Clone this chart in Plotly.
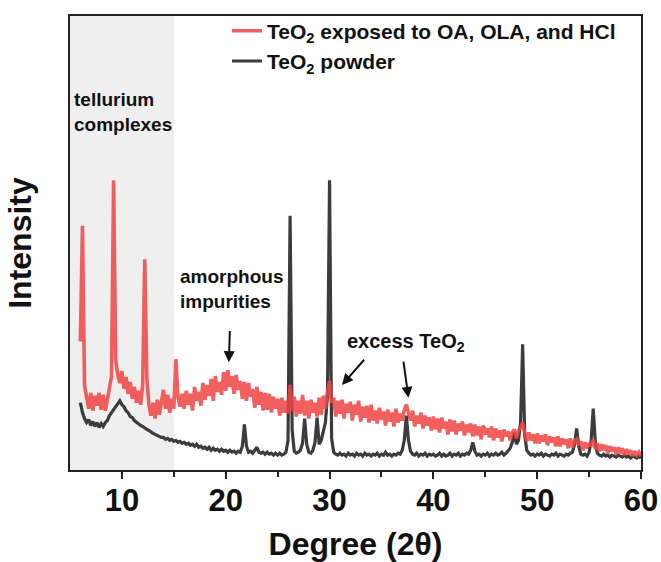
import plotly.graph_objects as go

# 2-theta sampling grid (degrees)
x_start = 6.0
x_step = 0.2

# TeO2 exposed to OA, OLA, and HCl (arb. units), one row per 2 degrees
red_intensity = [
    130, 247, 85, 72, 62, 78, 60, 75, 65, 78,      # 6.0 - 7.8
    61, 76, 60, 71, 82, 95, 293, 112, 96, 88,      # 8.0 - 9.8
    100, 82, 94, 77, 89, 72, 84, 68, 80, 66,       # 10.0 - 11.8
    86, 213, 92, 66, 55, 68, 52, 71, 56, 68,       # 12.0 - 13.8
    81, 62, 76, 58, 72, 62, 112, 74, 64, 77,       # 14.0 - 15.8
    62, 80, 66, 77, 60, 84, 70, 79, 65, 88,        # 16.0 - 17.8
    71, 86, 75, 92, 70, 95, 79, 89, 76, 99,        # 18.0 - 19.8
    80, 101, 84, 95, 77, 96, 81, 90, 72, 89,       # 20.0 - 21.8
    70, 88, 74, 82, 63, 84, 66, 79, 60, 78,        # 22.0 - 23.8
    61, 77, 58, 74, 62, 72, 55, 73, 58, 70,        # 24.0 - 25.8
    57, 86, 60, 74, 54, 70, 57, 76, 55, 70,        # 26.0 - 27.8
    52, 71, 58, 68, 54, 73, 56, 75, 62, 78,        # 28.0 - 29.8
    90, 68, 73, 54, 70, 57, 71, 52, 67, 58,        # 30.0 - 31.8
    69, 50, 66, 56, 70, 49, 64, 53, 65, 48,        # 32.0 - 33.8
    66, 50, 60, 47, 63, 51, 59, 45, 61, 49,        # 34.0 - 35.8
    58, 44, 62, 48, 57, 50, 61, 66, 58, 50,        # 36.0 - 37.8
    60, 44, 55, 47, 58, 42, 55, 45, 53, 40,        # 38.0 - 39.8
    54, 41, 52, 38, 53, 42, 49, 36, 51, 39,        # 40.0 - 41.8
    50, 36, 47, 40, 49, 35, 46, 38, 47, 34,        # 42.0 - 43.8
    46, 35, 44, 31, 45, 36, 42, 33, 44, 30,        # 44.0 - 45.8
    42, 33, 40, 29, 41, 34, 39, 30, 38, 41,        # 46.0 - 47.8
    32, 40, 43, 48, 37, 29, 38, 30, 36, 27,        # 48.0 - 49.8
    37, 27, 35, 29, 36, 25, 34, 28, 33, 24,        # 50.0 - 51.8
    34, 24, 32, 26, 31, 22, 32, 23, 29, 31,        # 52.0 - 53.8
    25, 29, 20, 28, 22, 27, 24, 31, 21, 27,        # 54.0 - 55.8
    19, 26, 20, 25, 17, 24, 19, 23, 16, 23,        # 56.0 - 57.8
    17, 22, 15, 21, 16, 20, 14, 19, 15, 18,        # 58.0 - 59.8
    14,                                            # 60.0
]

# TeO2 powder (arb. units)
black_intensity = [
    68, 58, 52, 48, 51, 45, 49, 44, 48, 43,        # 6.0 - 7.8
    47, 44, 48, 50, 55, 58, 62, 64, 68, 70,        # 8.0 - 9.8
    66, 64, 60, 58, 54, 53, 50, 48, 47, 45,        # 10.0 - 11.8
    44, 42, 41, 40, 38, 37, 36, 35, 34, 33,        # 12.0 - 13.8
    33, 31, 32, 30, 31, 29, 30, 28, 29, 27,        # 14.0 - 15.8
    28, 26, 27, 25, 26, 24, 26, 23, 24, 22,        # 16.0 - 17.8
    23, 21, 23, 20, 22, 20, 21, 19, 21, 19,        # 18.0 - 19.8
    20, 18, 20, 18, 19, 17, 19, 18, 24, 46,        # 20.0 - 21.8
    24, 18, 19, 17, 20, 23, 18, 17, 18, 16,        # 22.0 - 23.8
    18, 16, 17, 15, 17, 15, 17, 15, 16, 18,        # 24.0 - 25.8
    30, 257, 40, 19, 17, 18, 20, 27, 52, 26,       # 26.0 - 27.8
    18, 17, 20, 28, 53, 26, 30, 40, 48, 75,        # 28.0 - 29.8
    293, 32, 18, 16, 15, 17, 15, 16, 14, 17,       # 30.0 - 31.8
    15, 16, 14, 17, 15, 16, 14, 17, 15, 16,        # 32.0 - 33.8
    14, 16, 15, 17, 14, 16, 15, 18, 15, 16,        # 34.0 - 35.8
    14, 16, 15, 17, 16, 20, 30, 55, 30, 19,        # 36.0 - 37.8
    16, 15, 17, 14, 16, 15, 17, 14, 16, 15,        # 38.0 - 39.8
    16, 14, 15, 17, 14, 16, 14, 15, 17, 14,        # 40.0 - 41.8
    16, 15, 17, 14, 16, 15, 17, 16, 20, 28,        # 42.0 - 43.8
    19, 15, 16, 14, 16, 15, 17, 14, 16, 15,        # 44.0 - 45.8
    17, 15, 16, 18, 15, 17, 19, 22, 28, 38,        # 46.0 - 47.8
    26, 30, 48, 127, 35, 20, 17, 15, 16, 14,       # 48.0 - 49.8
    16, 15, 17, 14, 16, 15, 14, 16, 15, 17,        # 50.0 - 51.8
    14, 16, 15, 14, 16, 15, 17, 18, 26, 42,        # 52.0 - 53.8
    24, 16, 15, 16, 14, 18, 30, 62, 28, 17,        # 54.0 - 55.8
    15, 14, 16, 14, 15, 13, 15, 14, 13, 15,        # 56.0 - 57.8
    14, 13, 15, 13, 14, 12, 14, 13, 12, 14,        # 58.0 - 59.8
    12,                                            # 60.0
]

two_theta = [round(x_start + i * x_step, 1) for i in range(len(red_intensity))]

x_range = [5, 60]
y_range = [0, 459]
x_tickvals = [10, 20, 30, 40, 50, 60]
x_minor_tickvals = [15, 25, 35, 45, 55]
shaded_region = [5, 15]

BOLD = "Liberation Sans"

fig = go.Figure()

fig.add_trace(go.Scatter(
    x=two_theta, y=black_intensity, mode="lines",
    name="TeO<sub>2</sub> powder",
    line=dict(color="#3c3c3c", width=3.2),
    legendgroup="b", legendrank=2,
))
fig.add_trace(go.Scatter(
    x=two_theta, y=red_intensity, mode="lines",
    name="TeO<sub>2</sub> exposed to OA, OLA, and HCl",
    line=dict(color="#ef4444", width=3.6),
    opacity=0.85,
    legendgroup="r", legendrank=1,
))

fig.add_shape(type="rect", xref="x", yref="paper",
              x0=shaded_region[0], x1=shaded_region[1], y0=0, y1=1,
              fillcolor="#efefef", line=dict(width=0), layer="below")

ann_font = dict(family=BOLD, size=19, color="#111", weight="bold")
fig.add_annotation(x=5.15, y=362, xref="x", yref="y", text="tellurium<br>complexes",
                   showarrow=False, xanchor="left", yanchor="middle", align="left", font=ann_font)
fig.add_annotation(x=15.39, y=183, xref="x", yref="y", text="amorphous<br>impurities",
                   showarrow=False, xanchor="left", yanchor="middle", align="left", font=ann_font)
fig.add_annotation(x=31.5, y=129, xref="x", yref="y", text="excess TeO<sub>2</sub>",
                   showarrow=False, xanchor="left", yanchor="middle", align="left",
                   font=dict(family=BOLD, size=20, color="#111", weight="bold"))

arrows = [
    ((20.3, 109), (20.4, 142)),
    ((31.2, 86), (33.46, 113)),
    ((37.6, 73), (37.1, 111)),
]
for (hx, hy), (tx, ty) in arrows:
    fig.add_annotation(x=hx, y=hy, ax=tx, ay=ty, xref="x", yref="y", axref="x", ayref="y",
                       text="", showarrow=True, arrowhead=2, arrowsize=1.1, arrowwidth=2,
                       arrowcolor="#111", standoff=0, startstandoff=0)

fig.update_layout(
    width=661, height=562,
    margin=dict(l=70, r=20, t=11, b=92),
    plot_bgcolor="white", paper_bgcolor="white",
    showlegend=True,
    legend=dict(x=0.275, y=1.012, xanchor="left", yanchor="top",
                bgcolor="rgba(0,0,0,0)", tracegroupgap=0,
                font=dict(family=BOLD, size=21, color="#111", weight="bold")),
    xaxis=dict(range=x_range, tickvals=x_tickvals, ticks="outside", ticklen=7, tickwidth=2,
               tickcolor="#222", showline=True, linewidth=2, linecolor="#222", mirror=True,
               showgrid=False, zeroline=False, automargin=False, ticklabelstandoff=-5,
               minor=dict(tickvals=x_minor_tickvals, ticks="outside", ticklen=5, tickwidth=2,
                          tickcolor="#222"),
               tickfont=dict(family=BOLD, size=31, color="#111", weight="bold"),
               title=dict(text="Degree (2θ)", standoff=15,
                          font=dict(family=BOLD, size=32, color="#111", weight="bold"))),
    yaxis=dict(range=y_range, showticklabels=False, ticks="", showline=True, linewidth=1.5,
               linecolor="#222", mirror=True, showgrid=False, zeroline=False, automargin=False,
               title=dict(text="Intensity", standoff=27,
                          font=dict(family=BOLD, size=32, color="#111", weight="bold"))),
)

fig.write_html("out.html")
